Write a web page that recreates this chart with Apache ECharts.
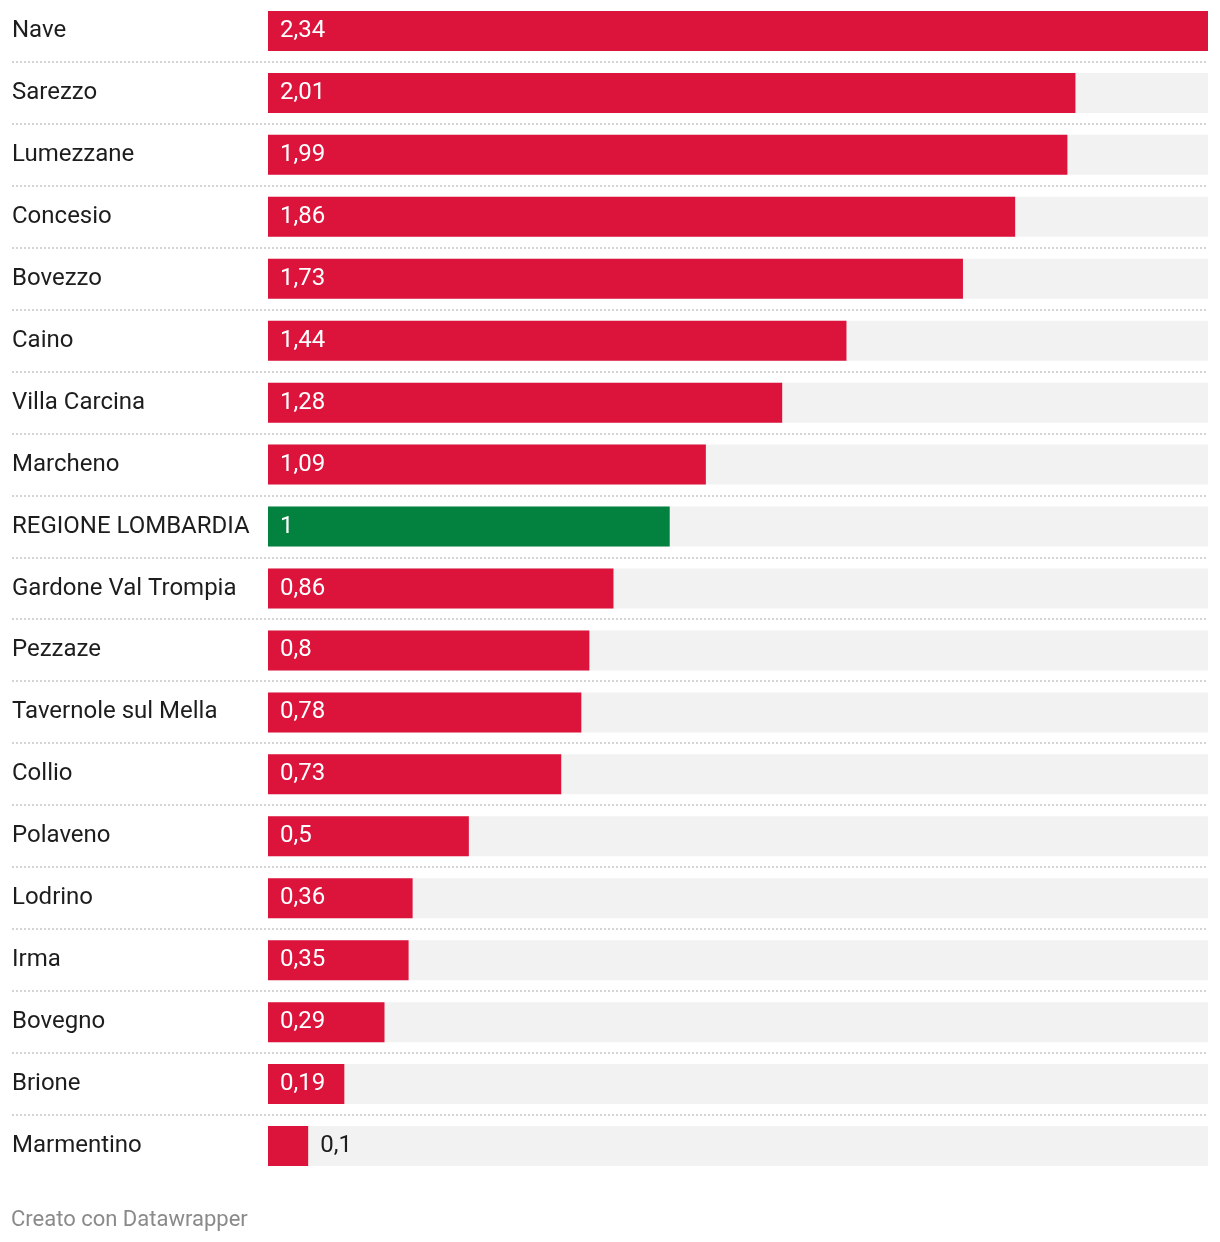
<!DOCTYPE html>
<html><head><meta charset="utf-8">
<script src="https://cdn.jsdelivr.net/npm/echarts@6/dist/echarts.min.js"></script>
<style>html,body{margin:0;padding:0;background:#fff}#c{width:1220px;height:1242px}</style>
</head><body><div id="c"></div>
<script>
const categories = ["Nave","Sarezzo","Lumezzane","Concesio","Bovezzo","Caino","Villa Carcina","Marcheno","REGIONE LOMBARDIA","Gardone Val Trompia","Pezzaze","Tavernole sul Mella","Collio","Polaveno","Lodrino","Irma","Bovegno","Brione","Marmentino"];
const values = [2.34,2.01,1.99,1.86,1.73,1.44,1.28,1.09,1,0.86,0.8,0.78,0.73,0.5,0.36,0.35,0.29,0.19,0.1];
const highlight = "REGIONE LOMBARDIA";
const footer = "Creato con Datawrapper";

const FONT = 'Roboto';
const RED = '#dc143c', GREEN = '#03823f';
const fmt = v => String(v).replace('.', ',');

const chart = echarts.init(document.getElementById('c'));
const barData = values.map((v, i) => {
  const short = v < 0.15;
  return {
    value: v,
    itemStyle: { color: categories[i] === highlight ? GREEN : RED },
    label: short ? { position: 'right', color: '#1d1d1d', distance: 12 } : {}
  };
});
chart.setOption({
  animation: false,
  textStyle: { fontFamily: FONT },
  grid: { left: 268, right: 12, top: -1, height: 62 * categories.length },
  xAxis: { type: 'value', min: 0, max: 2.34, show: false },
  yAxis: {
    type: 'category', data: categories, inverse: true,
    axisLine: { show: false }, axisTick: { show: false }, splitLine: { show: false },
    axisLabel: { align: 'left', margin: 256, color: '#1d1d1d', fontSize: 24, fontFamily: FONT, padding: [7, 0, 0, 0] }
  },
  series: [
    {
      type: 'bar', data: barData, barWidth: 40,
      showBackground: true, backgroundStyle: { color: '#f2f2f2' },
      label: { show: true, position: 'insideLeft', distance: 12, color: '#fff', fontSize: 24, fontFamily: FONT,
        padding: [7, 0, 0, 0], formatter: p => fmt(p.value) }
    },
    {
      type: 'custom', silent: true, z: 1,
      data: categories.slice(0, -1).map((c, i) => [0, i]),
      renderItem: (params, api) => {
        const p = api.coord([0, api.value(1)]);
        const h = api.size([0, 1])[1];
        const y = Math.round(p[1] + h / 2);
        const right = params.coordSys.x + params.coordSys.width;
        return { type: 'line', shape: { x1: 12, y1: y, x2: right, y2: y },
          style: { stroke: '#d4d4d4', lineWidth: 2, lineDash: [2, 2] } };
      }
    }
  ],
  graphic: [{ type: 'text', left: 11, top: 1209, style: { text: footer, fill: '#8a8a8a', fontSize: 22, fontFamily: FONT } }]
});
</script></body></html>
